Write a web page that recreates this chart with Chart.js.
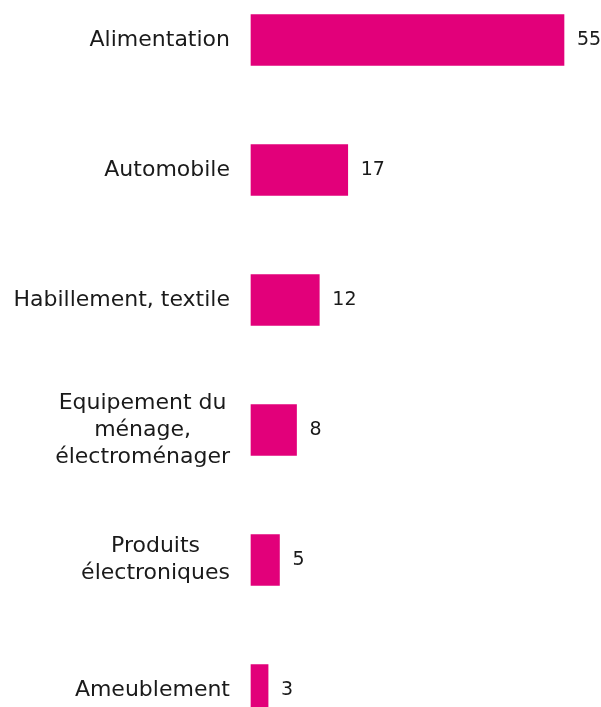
<!DOCTYPE html>
<html>
<head>
<meta charset="utf-8">
<script src="https://cdn.jsdelivr.net/npm/chart.js@4"></script>
<style>
  html, body { margin: 0; padding: 0; background: #fff; overflow: hidden; }
  #wrap { width: 601px; height: 707px; }
</style>
</head>
<body>
<div id="wrap"><canvas id="myChart" width="601" height="707"></canvas></div>
<script>
// categories (y axis)
var categories = [
  "Alimentation",
  "Automobile",
  "Habillement, textile",
  ["Equipement du", "ménage,", "électroménager"],
  ["Produits", "électroniques"],
  "Ameublement"
];
// valeurs
var values = [55, 17, 12, 8, 5, 3];

var barColor = "#e2007a";
var textColor = "#1a1a1a";

// etiquettes de valeur a droite des barres
var valueLabels = {
  id: "valueLabels",
  afterDatasetsDraw: function (chart) {
    var ctx = chart.ctx;
    var meta = chart.getDatasetMeta(0);
    ctx.save();
    ctx.font = "19px 'DejaVu Sans'";
    ctx.fillStyle = textColor;
    ctx.textAlign = "left";
    ctx.textBaseline = "middle";
    meta.data.forEach(function (bar, i) {
      ctx.fillText(String(values[i]), bar.x + 13, bar.y);
    });
    ctx.restore();
  }
};

// libelles des categories : bloc aligne a droite, lignes centrees
var categoryLabels = {
  id: "categoryLabels",
  afterDraw: function (chart) {
    var scale = chart.scales.y;
    var ctx = chart.ctx;
    var lineH = 22 * 1.22;
    var right = scale.right - 21;
    ctx.save();
    ctx.font = "22px 'DejaVu Sans'";
    ctx.fillStyle = textColor;
    ctx.textAlign = "center";
    ctx.textBaseline = "middle";
    categories.forEach(function (label, i) {
      var lines = Array.isArray(label) ? label : [label];
      var widest = 0;
      lines.forEach(function (l) { widest = Math.max(widest, ctx.measureText(l).width); });
      var cx = right - widest / 2;
      var y0 = scale.getPixelForTick(i) - (lines.length - 1) * lineH / 2;
      lines.forEach(function (l, k) { ctx.fillText(l, cx, y0 + k * lineH); });
    });
    ctx.restore();
  }
};

var ctx = document.getElementById("myChart").getContext("2d");

var chart = new Chart(ctx, {
  type: "bar",
  data: {
    labels: categories,
    datasets: [
      {
        data: values,
        backgroundColor: barColor,
        borderWidth: 0,
        barThickness: 51,
        clip: false
      }
    ]
  },
  plugins: [valueLabels, categoryLabels],
  options: {
    indexAxis: "y",
    responsive: false,
    animation: false,
    layout: { padding: { top: 40, bottom: 17, left: 0, right: 37 } },
    plugins: {
      legend: { display: false },
      tooltip: { enabled: false }
    },
    scales: {
      x: {
        display: false,
        min: 0,
        max: Math.max.apply(null, values)
      },
      y: {
        offset: false,
        grid: { display: false, drawTicks: false },
        border: { display: false },
        afterFit: function (scale) {
          scale.width = 251;
          scale.paddingTop = 0;
          scale.paddingBottom = 0;
        },
        ticks: { display: false }
      }
    }
  }
});
</script>
</body>
</html>
